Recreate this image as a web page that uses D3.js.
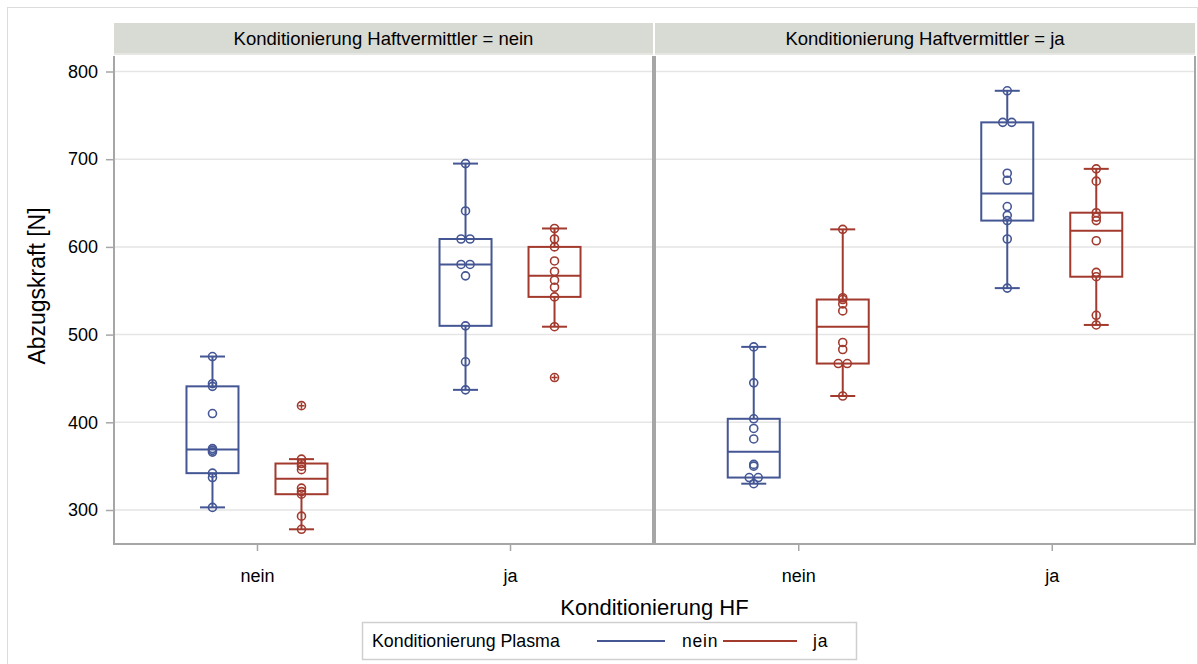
<!DOCTYPE html>
<html>
<head>
<meta charset="utf-8">
<script src="https://cdn.jsdelivr.net/npm/d3@7"></script>
<style>
  html, body { margin: 0; padding: 0; background: #fff; }
  svg { display: block; font-family: "Liberation Sans", Arial, sans-serif; }
</style>
</head>
<body>
<svg id="chart" width="1198" height="664"></svg>
<script>
// Faceting and grouping levels
const panelLevels = ["nein", "ja"];          // Konditionierung Haftvermittler
const hfLevels = ["nein", "ja"];             // Konditionierung HF (x axis)
const plasmaLevels = ["nein", "ja"];         // Konditionierung Plasma (group)
const yTicks = [300, 400, 500, 600, 700, 800];

// Abzugskraft [N] per cell: Haftvermittler / HF / Plasma
const hvNein_hfNein_plNein = [475, 444, 441, 410, 370, 368, 366, 342, 337, 303];
const hvNein_hfNein_plJa   = [419, 358, 353, 350, 346, 325, 321, 318, 293, 278];
const hvNein_hfJa_plNein   = [695, 641, 609, 609, 580, 580, 567, 510, 469, 437];
const hvNein_hfJa_plJa     = [621, 609, 600, 584, 572, 562, 554, 543, 509, 451];
const hvJa_hfNein_plNein   = [486, 445, 404, 393, 381, 352, 350, 337, 337, 330];
const hvJa_hfNein_plJa     = [620, 542, 540, 535, 527, 491, 483, 467, 467, 430];
const hvJa_hfJa_plNein     = [778, 742, 742, 684, 676, 646, 636, 630, 609, 553];
const hvJa_hfJa_plJa       = [689, 675, 639, 634, 630, 607, 571, 566, 522, 511];

const cells = [
  { hv: "nein", hf: "nein", pl: "nein", values: hvNein_hfNein_plNein },
  { hv: "nein", hf: "nein", pl: "ja",   values: hvNein_hfNein_plJa },
  { hv: "nein", hf: "ja",   pl: "nein", values: hvNein_hfJa_plNein },
  { hv: "nein", hf: "ja",   pl: "ja",   values: hvNein_hfJa_plJa },
  { hv: "ja",   hf: "nein", pl: "nein", values: hvJa_hfNein_plNein },
  { hv: "ja",   hf: "nein", pl: "ja",   values: hvJa_hfNein_plJa },
  { hv: "ja",   hf: "ja",   pl: "nein", values: hvJa_hfJa_plNein },
  { hv: "ja",   hf: "ja",   pl: "ja",   values: hvJa_hfJa_plJa }
];

const colors = { nein: "#445694", ja: "#A23A2E" };

// Percentile, empirical distribution with averaging (SAS definition 5)
function pctl(sorted, p) {
  const n = sorted.length, np = n * p, j = Math.floor(np);
  if (Math.abs(np - j) < 1e-9) return (sorted[j - 1] + sorted[j]) / 2;
  return sorted[j];
}
function boxStats(values) {
  const s = values.slice().sort((a, b) => a - b);
  const q1 = pctl(s, 0.25), med = pctl(s, 0.5), q3 = pctl(s, 0.75);
  const iqr = q3 - q1, lo = q1 - 1.5 * iqr, hi = q3 + 1.5 * iqr;
  const inside = s.filter(v => v >= lo && v <= hi);
  return { q1, med, q3, wLo: d3.min(inside), wHi: d3.max(inside),
           outliers: s.filter(v => v < lo || v > hi) };
}

const svg = d3.select("#chart");

// Layout
const plotTop = 56, plotBottom = 544;
const panels = [
  { level: "nein", x0: 114, x1: 653 },
  { level: "ja",   x0: 655, x1: 1195 }
];

const y = d3.scaleLinear().domain([300, 800]).range([510, 71.5]);
const groupOffset = d3.scalePoint().domain(plasmaLevels).range([-44.5, 44.5]);
const boxW = 52, capW = 25, r = 4;

// Outer frame
svg.append("rect")
  .attr("x", 7.5).attr("y", 7.5).attr("width", 1190).attr("height", 680)
  .attr("fill", "none").attr("stroke", "#dcdcdc").attr("stroke-width", 1);

panels.forEach(p => {
  const x = d3.scalePoint().domain(hfLevels).range([p.x0, p.x1]).padding(0.565);
  const g = svg.append("g");

  // strip header
  g.append("rect")
    .attr("x", p.x0).attr("y", 23).attr("width", p.x1 - p.x0).attr("height", 31)
    .attr("fill", "#d8dad4");
  g.append("line")
    .attr("x1", p.x0).attr("x2", p.x1).attr("y1", 54).attr("y2", 54)
    .attr("stroke", "#e6e7e3").attr("stroke-width", 2);
  g.append("text")
    .attr("x", (p.x0 + p.x1) / 2).attr("y", 45)
    .attr("text-anchor", "middle").attr("font-size", 18.5).attr("fill", "#000")
    .text("Konditionierung Haftvermittler = " + p.level);

  // gridlines
  g.selectAll("line.grid").data(yTicks).join("line")
    .attr("class", "grid")
    .attr("x1", p.x0).attr("x2", p.x1)
    .attr("y1", d => y(d)).attr("y2", d => y(d))
    .attr("stroke", "#e5e5e5").attr("stroke-width", 1.5);

  // x axis
  const xAxis = g.append("g")
    .attr("transform", `translate(0,${plotBottom})`)
    .call(d3.axisBottom(x).tickSize(7).tickPadding(18));
  xAxis.select(".domain").remove();
  xAxis.selectAll(".tick line").attr("stroke", "#a6a6a6").attr("stroke-width", 1.5);
  xAxis.selectAll(".tick text").attr("font-size", 18).attr("fill", "#000")
    .attr("font-family", "Liberation Sans, Arial, sans-serif");

  // boxes
  const panelCells = cells.filter(c => c.hv === p.level);
  panelCells.forEach(c => {
    const st = boxStats(c.values);
    const cx = x(c.hf) + groupOffset(c.pl);
    const col = colors[c.pl];
    const bg = g.append("g").attr("stroke", col).attr("fill", "none").attr("stroke-width", 2);

    // whiskers
    bg.append("line").attr("x1", cx).attr("x2", cx).attr("y1", y(st.q3)).attr("y2", y(st.wHi));
    bg.append("line").attr("x1", cx).attr("x2", cx).attr("y1", y(st.q1)).attr("y2", y(st.wLo));
    bg.append("line").attr("x1", cx - capW / 2).attr("x2", cx + capW / 2)
      .attr("y1", y(st.wHi)).attr("y2", y(st.wHi));
    bg.append("line").attr("x1", cx - capW / 2).attr("x2", cx + capW / 2)
      .attr("y1", y(st.wLo)).attr("y2", y(st.wLo));
    // box and median
    bg.append("rect")
      .attr("x", cx - boxW / 2).attr("y", y(st.q3))
      .attr("width", boxW).attr("height", y(st.q1) - y(st.q3));
    bg.append("line").attr("x1", cx - boxW / 2).attr("x2", cx + boxW / 2)
      .attr("y1", y(st.med)).attr("y2", y(st.med));

    // outlier markers
    st.outliers.forEach(v => {
      bg.append("path")
        .attr("d", `M${cx - 3},${y(v)}H${cx + 3}M${cx},${y(v) - 3}V${y(v) + 3}`)
        .attr("stroke-width", 1.5);
    });

    // individual observations; tied values are spread side by side
    const counts = d3.rollup(c.values, v => v.length, d => d);
    const seen = new Map();
    const pts = c.values.map(v => {
      const k = counts.get(v), i = seen.get(v) || 0;
      seen.set(v, i + 1);
      return { v, dx: (i - (k - 1) / 2) * 9 };
    });
    g.selectAll(null).data(pts).join("circle")
      .attr("cx", d => cx + d.dx).attr("cy", d => y(d.v)).attr("r", r)
      .attr("fill", "none").attr("stroke", col).attr("stroke-width", 1.6);
  });

  // panel frame (left, bottom, right)
  g.append("path")
    .attr("d", `M${p.x0},${plotTop}V${plotBottom}H${p.x1}V${plotTop}`)
    .attr("fill", "none").attr("stroke", "#a6a6a6").attr("stroke-width", 2);
});

// y axis
const yAxis = svg.append("g")
  .attr("transform", `translate(${panels[0].x0},0)`)
  .call(d3.axisLeft(y).tickValues(yTicks).tickSize(8).tickPadding(8));
yAxis.select(".domain").remove();
yAxis.selectAll(".tick line").attr("stroke", "#a6a6a6").attr("stroke-width", 1.5);
yAxis.selectAll(".tick text").attr("font-size", 18).attr("fill", "#000")
  .attr("font-family", "Liberation Sans, Arial, sans-serif");

// axis titles
svg.append("text")
  .attr("transform", `translate(45,286) rotate(-90)`)
  .attr("text-anchor", "middle").attr("font-size", 23).attr("fill", "#000")
  .text("Abzugskraft [N]");
svg.append("text")
  .attr("x", (panels[0].x0 + panels[1].x1) / 2).attr("y", 615)
  .attr("text-anchor", "middle").attr("font-size", 22).attr("fill", "#000")
  .text("Konditionierung HF");

// legend
const lg = svg.append("g");
lg.append("rect")
  .attr("x", 362.5).attr("y", 622.5).attr("width", 494).attr("height", 37)
  .attr("fill", "#fff").attr("stroke", "#cfcfcf").attr("stroke-width", 1.5);
lg.append("text")
  .attr("x", 372).attr("y", 647).attr("font-size", 17.8).attr("fill", "#000")
  .text("Konditionierung Plasma");
const legendItems = [
  { level: "nein", x1: 597, x2: 665, tx: 682 },
  { level: "ja",   x1: 723, x2: 797, tx: 813 }
];
legendItems.forEach(it => {
  lg.append("line")
    .attr("x1", it.x1).attr("x2", it.x2).attr("y1", 641).attr("y2", 641)
    .attr("stroke", colors[it.level]).attr("stroke-width", 2);
  lg.append("text")
    .attr("x", it.tx).attr("y", 647).attr("font-size", 17.5).attr("fill", "#000")
    .attr("letter-spacing", 0.8)
    .text(it.level);
});
</script>
</body>
</html>
